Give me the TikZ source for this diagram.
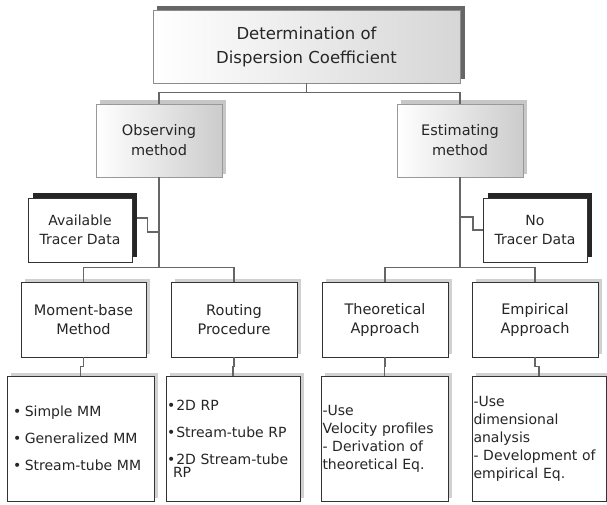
\documentclass[tikz,border=0pt]{standalone}
\usepackage{fontspec}
\setmainfont{DejaVu Sans}
\usetikzlibrary{calc,backgrounds}
\begin{document}
\begin{tikzpicture}[x=1pt,y=-1pt,
  basebox/.style={draw=black!80, line width=0.8pt, fill=white, align=center, text=black!85, inner sep=0pt},
  topbox/.style={basebox, draw=black!45, minimum width=307pt, minimum height=73pt,
    left color=white, right color=black!16,
    font=\fontsize{16.5}{24}\selectfont},
  midbox/.style={basebox, draw=black!40, minimum width=126pt, minimum height=73pt,
    left color=white, right color=black!20,
    font=\fontsize{14.5}{20}\selectfont},
  databox/.style={basebox, minimum width=104pt, minimum height=64pt,
    font=\fontsize{14}{18.5}\selectfont},
  subbox/.style={basebox, minimum width=126pt, minimum height=75pt,
    font=\fontsize{14.5}{19}\selectfont},
  listbox/.style={basebox, align=left, minimum height=125pt,
    font=\fontsize{14}{18}\selectfont},
  conn/.style={draw=black!60, line width=1.5pt}
]
\useasboundingbox (0,0) rectangle (607,504);

\node[topbox] (top) at (306.5,46.5) {Determination of\\Dispersion Coefficient};
\node[midbox] (obs) at (159,140.5) {Observing\\method};
\node[midbox] (est) at (460,140.5) {Estimating\\method};
\node[databox] (avail) at (80,230) {Available\\Tracer Data};
\node[databox] (notr) at (535,230) {No\\Tracer Data};
\node[subbox, minimum width=125pt] (mom) at (83.5,319.5) {Moment-base\\Method};
\node[subbox] (rout) at (234,319.5) {Routing\\Procedure};
\node[subbox] (theo) at (385,319.5) {Theoretical\\Approach};
\node[subbox] (emp) at (535,319.5) {Empirical\\Approach};

\node[listbox, minimum width=147pt, text width=135pt] (l1) at (80.5,438.5)
  {•\hspace{3.5pt}Simple~MM\\[9pt]•\hspace{3.5pt}Generalized~MM\\[9pt]•\hspace{3.5pt}Stream-tube~MM};
\node[listbox, minimum width=134pt, text width=132pt] (l2) at (233,438.5)
  {•\hspace{1pt}2D~RP\\[9pt]•\hspace{1pt}Stream-tube~RP\\[9pt]•\hspace{1pt}2D~Stream-tube\\[-5pt]\hspace*{6pt}RP};
\node[listbox, minimum width=127pt, text width=124pt] (l3) at (384.5,438.5)
  {-Use\\Velocity~profiles\\-~Derivation~of\\theoretical~Eq.};
\node[listbox, minimum width=134pt, text width=131pt] (l4) at (539,438.5)
  {-Use\\dimensional\\analysis\\-~Development~of\\empirical~Eq.};

\begin{scope}[on background layer]
  \foreach \n/\c/\dx/\dy in {top/black!60/4.5/4, obs/black!22/4/3.5, est/black!22/4/3.5,
      avail/black!85/5/5, notr/black!85/5/5,
      mom/black!18/4/3, rout/black!18/4/3, theo/black!18/4/3, emp/black!18/4/3,
      l1/black!18/4/3, l2/black!18/4/3, l3/black!18/4/3, l4/black!18/4/3}
    \fill[\c] ($(\n.south west)+(\dx,-\dy)$) rectangle ($(\n.north east)+(\dx,-\dy)$);
\end{scope}

\draw[conn] (top.south) -- ++(0,9) -| (obs.north);
\draw[conn] (top.south) -- ++(0,9) -| (est.north);
\draw[conn] (obs.south) -- ++(0,90) -| (mom.north);
\draw[conn] (obs.south) -- ++(0,90) -| (rout.north);
\draw[conn] (est.south) -- ++(0,90) -| (theo.north);
\draw[conn] (est.south) -- ++(0,90) -| (emp.north);

\coordinate (ja) at (159,232);
\coordinate (jb) at (460,217);
\draw[conn] ($(avail.east)+(5,-12)$) -- ++(10,0) |- (ja);
\draw[conn] (jb) -- ++(13,0) |- (notr.west);

\draw[conn] (mom.south) -- ++(0,9) -| (l1.north);
\draw[conn] (rout.south) -- ++(0,9) -| (l2.north);
\draw[conn] (theo.south) -- ++(0,9) -| (l3.north);
\draw[conn] (emp.south) -- ++(0,9) -| (l4.north);
\end{tikzpicture}
\end{document}
